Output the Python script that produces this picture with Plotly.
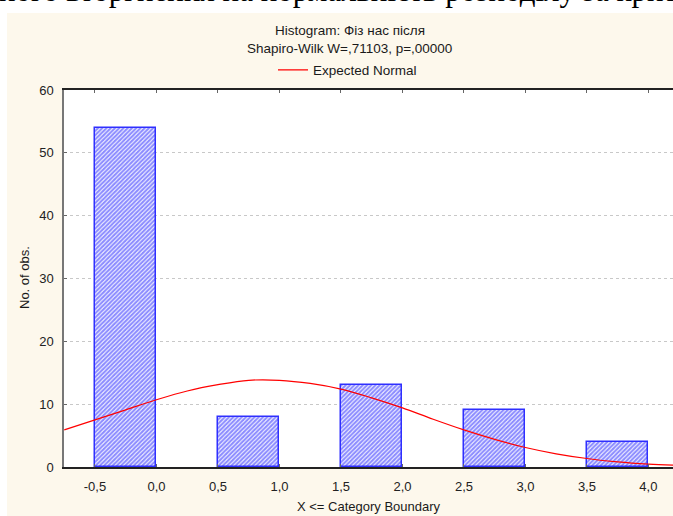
import plotly.graph_objects as go

# ---- data ----
bin_upper = [0.0, 0.5, 1.0, 1.5, 2.0, 2.5, 3.0, 3.5, 4.0]
counts = [54, 0, 8, 0, 13, 0, 9, 0, 4]

curve_x = [-0.75, -0.5, -0.25, 0.0, 0.25, 0.5, 0.75, 1.0, 1.25, 1.5, 1.75,
           2.0, 2.25, 2.5, 2.75, 3.0, 3.25, 3.5, 3.75, 4.0, 4.25]
curve_y = [5.9, 7.5, 9.1, 10.7, 12.1, 13.1, 13.8, 13.8, 13.3, 12.4, 11.0,
           9.4, 7.6, 5.9, 4.4, 3.1, 2.1, 1.35, 0.8, 0.45, 0.25]

x_tickvals = [-0.5, 0.0, 0.5, 1.0, 1.5, 2.0, 2.5, 3.0, 3.5, 4.0]
x_ticktext = ["-0,5", "0,0", "0,5", "1,0", "1,5", "2,0", "2,5", "3,0", "3,5", "4,0"]
y_tickvals = [0, 10, 20, 30, 40, 50, 60]

title_text = "Histogram: Фіз нас після"
subtitle_text = "Shapiro-Wilk W=,71103, p=,00000"
legend_text = "Expected Normal"
x_title = "X <= Category Boundary"
y_title = "No. of obs."
page_text = "ного вторгнення на нормальність розподілу за критерієм"

W, H = 673, 516
ML, MR, MT, MB = 64, 0, 90, 49
PW, PH = W - ML - MR, H - MT - MB


def px_x(px):
    return (px - ML) / PW


def px_y(py):
    return (H - MB - py) / PH


BEIGE = "#FDF8EC"
FONT = "Liberation Sans, Arial, sans-serif"
TXT = "#1a1a1a"

fig = go.Figure()

fig.add_trace(go.Bar(
    x=bin_upper, y=counts, offset=-0.5, width=0.5,
    marker=dict(
        color="white",
        line=dict(color="#2f2fff", width=[1.5 if c > 0 else 0 for c in counts]),
        pattern=dict(shape="/", fgcolor="#1a1aff", bgcolor="white",
                     size=3, solidity=0.7),
    ),
    showlegend=False, hoverinfo="skip",
))

fig.add_trace(go.Scatter(
    x=curve_x, y=curve_y, mode="lines", name=legend_text,
    line=dict(color="#FF0000", width=1.2, shape="spline"),
))

fig.update_layout(
    width=W, height=H,
    margin=dict(l=ML, r=MR, t=MT, b=MB, autoexpand=False),
    paper_bgcolor=BEIGE, plot_bgcolor="white",
    font=dict(family=FONT, size=13, color=TXT),
    bargap=0,
    title=dict(text=title_text, x=350 / W, xanchor="center",
               y=1 - 30 / H, yanchor="middle",
               font=dict(family=FONT, size=13.5, color=TXT)),
    legend=dict(orientation="h", x=px_x(273), xanchor="left",
                y=px_y(70), yanchor="middle", bgcolor="rgba(0,0,0,0)",
                font=dict(family=FONT, size=13.5, color=TXT),
                itemwidth=30),
    showlegend=True,
)

fig.update_xaxes(
    range=[-0.752, 4.2],
    tickvals=x_tickvals, ticktext=x_ticktext,
    tickfont=dict(family=FONT, size=13, color="#222"),
    showgrid=False, zeroline=False,
    showline=True, linecolor="#222", linewidth=1.5,
    ticks="inside", ticklen=3, tickcolor="#666",
    mirror="ticks", ticklabelstandoff=7,
)
fig.update_yaxes(
    range=[0, 60],
    tickvals=y_tickvals,
    tickfont=dict(family=FONT, size=13, color="#222"),
    showgrid=True, gridcolor="#c8c8c8", griddash="dot", gridwidth=1,
    zeroline=False,
    showline=True, linecolor="#777", linewidth=1.5,
    ticks="inside", ticklen=3, tickcolor="#666",
    ticklabelstandoff=6,
)

# white page strips around the beige panel
fig.add_shape(type="rect", xref="paper", yref="paper", layer="below",
              x0=px_x(-5), x1=px_x(W + 5), y0=px_y(13), y1=px_y(-5),
              fillcolor="white", line=dict(width=0))
fig.add_shape(type="rect", xref="paper", yref="paper", layer="below",
              x0=px_x(-5), x1=px_x(7), y0=px_y(H + 5), y1=px_y(-5),
              fillcolor="white", line=dict(width=0))

fig.add_annotation(text=subtitle_text, xref="paper", yref="paper",
                   x=px_x(349), y=px_y(49), xanchor="center", yanchor="middle",
                   showarrow=False, font=dict(family=FONT, size=13.5, color=TXT))
fig.add_annotation(text=x_title, xref="paper", yref="paper",
                   x=0.5, y=px_y(507), xanchor="center", yanchor="middle",
                   showarrow=False, font=dict(family=FONT, size=13, color=TXT))
fig.add_annotation(text=y_title, xref="paper", yref="paper", textangle=-90,
                   x=px_x(24), y=px_y(278), xanchor="center", yanchor="middle",
                   showarrow=False, font=dict(family=FONT, size=13, color=TXT))
fig.add_annotation(text=page_text, xref="paper", yref="paper",
                   x=px_x(-3), y=px_y(10), xanchor="left", yanchor="bottom",
                   showarrow=False,
                   font=dict(family="Liberation Serif, Times New Roman, serif",
                             size=31, color="black"))

fig.write_html("out.html",
               config={"displayModeBar": False},
               post_script="document.body.style.margin='0';"
                           "document.body.style.padding='0';")
